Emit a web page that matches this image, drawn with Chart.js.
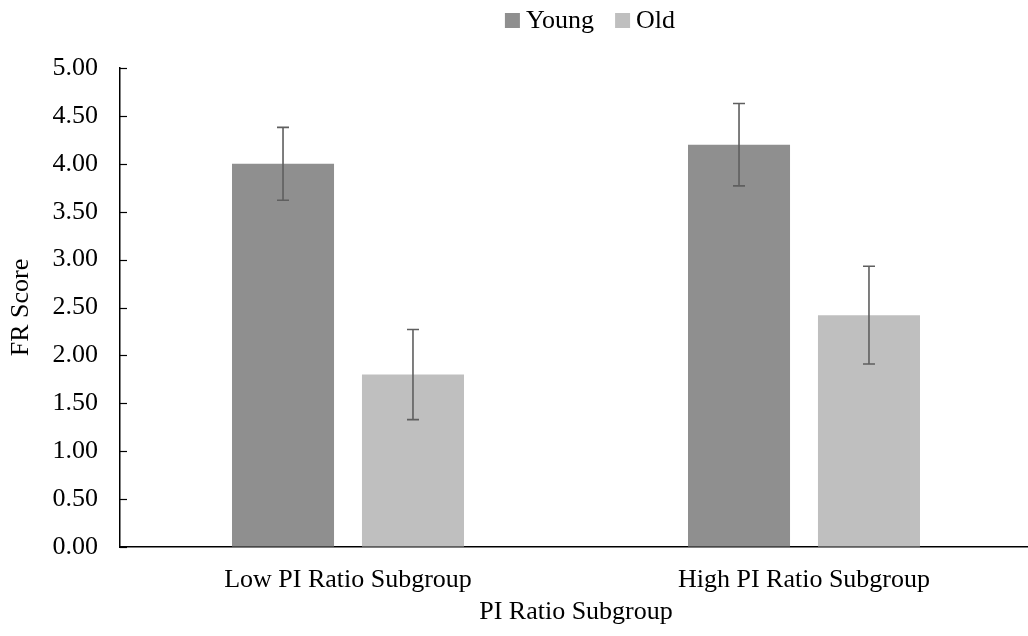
<!DOCTYPE html>
<html>
<head>
<meta charset="utf-8">
<script src="https://cdn.jsdelivr.net/npm/chart.js@4"></script>
<style>
  html, body { margin: 0; padding: 0; background: #fff; }
  #wrap { width: 1028px; height: 636px; }
</style>
</head>
<body>
<div id="wrap"><canvas id="c" width="1028" height="636"></canvas></div>
<script>
const categories = ["Low PI Ratio Subgroup", "High PI Ratio Subgroup"];
const seriesNames = ["Young", "Old"];
const youngValues = [4.00, 4.20];
const oldValues = [1.80, 2.42];
const youngErrors = [0.38, 0.43];
const oldErrors = [0.47, 0.51];
const yTicks = [0, 0.5, 1, 1.5, 2, 2.5, 3, 3.5, 4, 4.5, 5];

const FONT = "'Liberation Serif', 'Times New Roman', serif";
const FS = 26;

const errorBarPlugin = {
  id: 'errorBars',
  afterDatasetsDraw(chart) {
    const ctx = chart.ctx;
    const yScale = chart.scales.y;
    const errs = [youngErrors, oldErrors];
    ctx.save();
    ctx.strokeStyle = '#5f5f5f';
    ctx.lineWidth = 1.6;
    chart.data.datasets.forEach((ds, di) => {
      const meta = chart.getDatasetMeta(di);
      meta.data.forEach((bar, i) => {
        const v = ds.data[i];
        const e = errs[di][i];
        const x = bar.x;
        const yt = yScale.getPixelForValue(v + e);
        const yb = yScale.getPixelForValue(v - e);
        const cap = 6;
        ctx.beginPath();
        ctx.moveTo(x, yt); ctx.lineTo(x, yb);
        ctx.moveTo(x - cap, yt); ctx.lineTo(x + cap, yt);
        ctx.moveTo(x - cap, yb); ctx.lineTo(x + cap, yb);
        ctx.stroke();
      });
    });
    ctx.restore();
  }
};

// plot area extends slightly past the right edge, as in the reference
const extendRightPlugin = {
  id: 'extendRight',
  afterLayout(chart) {
    const extra = 4;
    const x = chart.scales.x;
    x.right += extra;
    x.width += extra;
    x.configure();
    chart.chartArea.right += extra;
    chart.chartArea.width += extra;
  }
};

// inward tick marks on the y axis
const innerTicksPlugin = {
  id: 'innerTicks',
  afterDraw(chart) {
    const ctx = chart.ctx;
    const y = chart.scales.y;
    const x0 = chart.chartArea.left;
    ctx.save();
    ctx.strokeStyle = '#000';
    ctx.lineWidth = 1.2;
    y.ticks.forEach(t => {
      const py = Math.round(y.getPixelForValue(t.value)) + 0.5;
      ctx.beginPath();
      ctx.moveTo(x0, py);
      ctx.lineTo(x0 + 7, py);
      ctx.stroke();
    });
    ctx.restore();
  }
};

// legend drawn at the top, from the datasets' labels and colours
const legendPlugin = {
  id: 'customLegend',
  afterDraw(chart) {
    const ctx = chart.ctx;
    ctx.save();
    ctx.font = FS + 'px ' + FONT;
    ctx.textBaseline = 'middle';
    ctx.fillStyle = '#000';
    const box = 15, gapText = 6, gapItem = 21;
    const widths = chart.data.datasets.map(d => box + gapText + ctx.measureText(d.label).width);
    const total = widths.reduce((a, b) => a + b, 0) + gapItem * (widths.length - 1);
    const center = 590;
    let x = center - total / 2;
    const boxTop = 13;
    chart.data.datasets.forEach((d, i) => {
      ctx.fillStyle = d.backgroundColor;
      ctx.fillRect(x, boxTop, box, box);
      ctx.fillStyle = '#000';
      ctx.fillText(d.label, x + box + gapText, boxTop + box / 2 + 1);
      x += widths[i] + gapItem;
    });
    ctx.restore();
  }
};

new Chart(document.getElementById('c'), {
  type: 'bar',
  data: {
    labels: categories,
    datasets: [
      { label: seriesNames[0], data: youngValues, backgroundColor: '#8f8f8f' },
      { label: seriesNames[1], data: oldValues, backgroundColor: '#bfbfbf' }
    ]
  },
  options: {
    responsive: false,
    animation: false,
    devicePixelRatio: 1,
    layout: { padding: { top: 68, right: 0, left: 0, bottom: 0 } },
    datasets: { bar: { categoryPercentage: 0.570, barPercentage: 0.785 } },
    plugins: {
      legend: { display: false },
      tooltip: { enabled: false },
      title: { display: false }
    },
    scales: {
      x: {
        afterFit(s) { s.height = 89; },
        grid: { display: true, drawOnChartArea: false, drawTicks: false },
        border: { display: true, color: '#000', width: 1.5 },
        ticks: { font: { family: FONT, size: FS }, color: '#000', padding: 18 },
        title: {
          display: true, text: 'PI Ratio Subgroup',
          font: { family: FONT, size: FS }, color: '#000',
          padding: { top: 0, bottom: 8 }
        }
      },
      y: {
        min: 0, max: 5,
        afterFit(s) { s.width = 120; },
        afterBuildTicks(s) { s.ticks = yTicks.map(v => ({ value: v })); },
        grid: { display: true, drawOnChartArea: false, drawTicks: false },
        border: { display: true, color: '#000', width: 1.5 },
        ticks: {
          font: { family: FONT, size: FS }, color: '#000', padding: 22,
          callback: v => Number(v).toFixed(2)
        },
        title: {
          display: true, text: 'FR Score',
          font: { family: FONT, size: FS }, color: '#000',
          padding: { top: 6, bottom: 0 }
        }
      }
    }
  },
  plugins: [extendRightPlugin, errorBarPlugin, innerTicksPlugin, legendPlugin]
});
</script>
</body>
</html>
